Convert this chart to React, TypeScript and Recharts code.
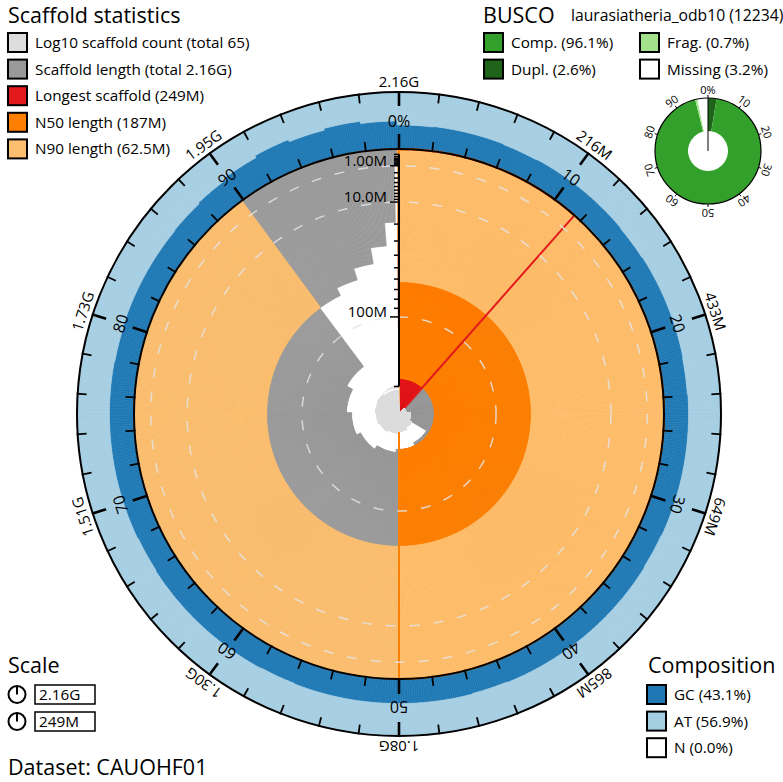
import React from 'react';
import {
  RadialBarChart,
  RadialBar,
  PolarAngleAxis,
  PolarRadiusAxis,
  PolarGrid,
  PieChart,
  Pie,
  Cell,
} from 'recharts';

// ---------------------------------------------------------------------------
// Frame
// ---------------------------------------------------------------------------
const WIDTH = 783;
const HEIGHT = 782;
const CX = 399;
const CY = 414;
const PLOT_RADIUS = 265; // scaffold statistics disc
const RING_OUTER = 322; // composition ring outer edge
const COUNT_RADIUS = 50; // radius of the log10 count scale at 100 scaffolds
const BIN_COUNT = 1000;
const START_ANGLE = 90;
const FONT = '"Open Sans", "DejaVu Sans", sans-serif';

// ---------------------------------------------------------------------------
// Assembly data
// ---------------------------------------------------------------------------
const DATASET = 'CAUOHF01';

// scaffold lengths in Mb, longest first
const scaffoldLengthsMb = [
  249, 246, 235, 192, 187, 182, 175, 168, 160, 150, 62.5, 55, 45, 33, 19,
  0.6, 0.45, 0.35, 0.3, 0.25, 0.2, 0.18, 0.16, 0.15, 0.14, 0.13, 0.12, 0.11,
  0.1, 0.095, 0.09, 0.085, 0.08, 0.075, 0.07, 0.065, 0.06, 0.058, 0.055, 0.052,
  0.05, 0.048, 0.046, 0.044, 0.042, 0.04, 0.038, 0.036, 0.034, 0.032, 0.03,
  0.029, 0.028, 0.027, 0.026, 0.025, 0.024, 0.023, 0.022, 0.021, 0.02, 0.019,
  0.018, 0.017, 0.016,
];

const N50_LENGTH = 187e6;
const N90_LENGTH = 62.5e6;

// GC fraction in 2% windows round the assembly
const gcWindows = [
  0.42, 0.43, 0.43, 0.42, 0.43, 0.43, 0.43, 0.42, 0.43, 0.43,
  0.43, 0.42, 0.43, 0.43, 0.43, 0.43, 0.42, 0.43, 0.43, 0.43,
  0.43, 0.43, 0.42, 0.43, 0.43, 0.43, 0.43, 0.43, 0.42, 0.43,
  0.43, 0.43, 0.43, 0.42, 0.43, 0.43, 0.43, 0.43, 0.43, 0.42,
  0.43, 0.43, 0.43, 0.44, 0.46, 0.5, 0.54, 0.5, 0.53, 0.49,
];

const compositionLegend = [
  { label: 'GC', value: 43.1, color: '#1f78b4' },
  { label: 'AT', value: 56.9, color: '#a6cee3' },
  { label: 'N', value: 0.0, color: '#ffffff' },
];

// BUSCO
const BUSCO_LINEAGE = 'laurasiatheria_odb10';
const BUSCO_TOTAL = 12234;
const BUSCO_COMPLETE = 96.1;
const BUSCO_DUPLICATED = 2.6;
const BUSCO_FRAGMENTED = 0.7;
const BUSCO_MISSING = 3.2;

// ---------------------------------------------------------------------------
// Colours
// ---------------------------------------------------------------------------
const C_COUNT = '#dddddd';
const C_LENGTH = '#999999';
const C_LONGEST = '#e31a1c';
const C_N50 = '#ff7f00';
const C_N90 = '#fdbf6f';
const C_GC = '#1f78b4';
const C_AT = '#a6cee3';
const C_COMP = '#33a02c';
const C_DUPL = '#20641c';
const C_FRAG = '#a3e28b';
const C_MISSING = '#ffffff';

// ---------------------------------------------------------------------------
// Derived tables
// ---------------------------------------------------------------------------
const scaffoldBp = scaffoldLengthsMb.map((mb) => mb * 1e6);
const SPAN = scaffoldBp.reduce((a, b) => a + b, 0);
const LONGEST = scaffoldBp[0];
const SCAFFOLD_COUNT = scaffoldBp.length;

const starts: number[] = [];
const ends: number[] = [];
scaffoldBp.reduce((acc, len) => {
  starts.push(acc);
  ends.push(acc + len);
  return acc + len;
}, 0);

const bins = Array.from({ length: BIN_COUNT }, (_, i) => {
  const lo = (i / BIN_COUNT) * SPAN;
  const hi = ((i + 1) / BIN_COUNT) * SPAN;
  const mid = (lo + hi) / 2;
  let idx = ends.findIndex((e) => e > mid);
  if (idx < 0) idx = scaffoldBp.length - 1;
  const count = starts.filter((s) => s < hi).length;
  const frac = (i + 0.5) / BIN_COUNT;
  const gc = gcWindows[Math.floor((i * gcWindows.length) / BIN_COUNT)];
  return {
    bin: i,
    length: [scaffoldBp[idx], 0],
    longest: mid < ends[0] ? [LONGEST, 0] : [0, 0],
    n50: frac < 0.5 ? [N50_LENGTH, 0] : [0, 0],
    n90: frac < 0.9 ? [N90_LENGTH, 0] : [0, 0],
    count: [1, count],
    countLine: count >= 10.5 ? [9.7, 10.3] : [1, 1],
    gc,
    at: 1 - gc,
  };
});

// angular frame for the percentage axes (one category per 10%)
const tenPercentSteps = Array.from({ length: 10 }, (_, i) => ({ pct: i * 10 }));
const MINOR_STEPS = [2, 4, 6, 8];

const buscoSlices = [
  { name: 'Dupl.', value: BUSCO_DUPLICATED, color: C_DUPL },
  { name: 'Single', value: BUSCO_COMPLETE - BUSCO_DUPLICATED, color: C_COMP },
  { name: 'Frag.', value: BUSCO_FRAGMENTED, color: C_FRAG },
  { name: 'Missing', value: BUSCO_MISSING, color: C_MISSING },
];

const longestSlices = [
  { name: 'longest', value: LONGEST },
  { name: 'rest', value: SPAN - LONGEST },
];
const n50Slices = [
  { name: 'n50', value: SPAN * 0.5 },
  { name: 'rest', value: SPAN * 0.5 },
];

const majorLengthTicks = [1e6, 1e7, 1e8];
const lengthTicks = [
  ...[1, 2, 3, 4, 5, 6, 7, 8, 9].map((v) => v * 1e5),
  ...[1, 2, 3, 4, 5, 6, 7, 8, 9].map((v) => v * 1e6),
  ...[1, 2, 3, 4, 5, 6, 7, 8, 9].map((v) => v * 1e7),
  1e8,
  2e8,
];

// ---------------------------------------------------------------------------
// Helpers
// ---------------------------------------------------------------------------
const RAD = Math.PI / 180;
const polarXY = (cx: number, cy: number, r: number, angle: number) => ({
  x: cx + r * Math.cos(-angle * RAD),
  y: cy + r * Math.sin(-angle * RAD),
});
// angle (recharts convention) of a percentage position, clockwise from 12 o'clock
const pctAngle = (pct: number) => START_ANGLE - pct * 3.6;

const fmtBp = (v: number) => {
  if (v >= 1e9) return `${(v / 1e9).toPrecision(3)}G`;
  if (v >= 1e6) return `${(v / 1e6).toPrecision(3)}M`;
  if (v >= 1e3) return `${(v / 1e3).toPrecision(3)}k`;
  return String(v);
};

const frame = {
  width: WIDTH,
  height: HEIGHT,
  startAngle: START_ANGLE,
  endAngle: START_ANGLE - 360,
  margin: { top: 0, right: 0, bottom: 0, left: 0 },
};

const Layer = ({ children }: { children: React.ReactNode }) => (
  <div style={{ position: 'absolute', left: 0, top: 0, width: WIDTH, height: HEIGHT }}>
    {children}
  </div>
);

// ---------------------------------------------------------------------------
// Tick renderers (one call per 10%, drawing that decade's 2% marks as well)
// ---------------------------------------------------------------------------
type TickRenderer = (p: any) => React.ReactElement;

function RingMarks({
  pct,
  radius,
  dir,
  majorLen,
  minorLen,
}: {
  pct: number;
  radius: number;
  dir: 1 | -1;
  majorLen: number;
  minorLen: number;
}) {
  const marks = [0, ...MINOR_STEPS].map((k) => {
    const a = pctAngle(pct + k);
    const major = k === 0;
    const p1 = polarXY(CX, CY, radius - dir * 1, a);
    const p2 = polarXY(CX, CY, radius + dir * (major ? majorLen : minorLen), a);
    return (
      <line
        key={k}
        x1={p1.x}
        y1={p1.y}
        x2={p2.x}
        y2={p2.y}
        stroke="#000"
        strokeWidth={major ? 2.6 : 1.8}
      />
    );
  });
  return <g>{marks}</g>;
}

function InnerTick(props: any) {
  const pct = Number(props.payload.value);
  const a = pctAngle(pct);
  const lp = polarXY(CX, CY, PLOT_RADIUS + 28, a);
  return (
    <g>
      <RingMarks pct={pct} radius={PLOT_RADIUS} dir={1} majorLen={15} minorLen={9} />
      <text
        x={lp.x}
        y={lp.y}
        transform={`rotate(${90 - a} ${lp.x} ${lp.y})`}
        textAnchor="middle"
        dominantBaseline="central"
        fontFamily={FONT}
        fontSize={16}
        fill="#000"
      >
        {pct === 0 ? '0%' : pct}
      </text>
    </g>
  );
}

function OuterTick(props: any) {
  const pct = Number(props.payload.value);
  const a = pctAngle(pct);
  const lp = polarXY(CX, CY, RING_OUTER + 5, a);
  return (
    <g>
      <RingMarks pct={pct} radius={RING_OUTER} dir={-1} majorLen={14} minorLen={9} />
      <text
        x={lp.x}
        y={lp.y}
        transform={`rotate(${90 - a} ${lp.x} ${lp.y})`}
        textAnchor="middle"
        fontFamily={FONT}
        fontSize={15}
        fill="#000"
      >
        {fmtBp(((pct === 0 ? 100 : pct) / 100) * SPAN)}
      </text>
    </g>
  );
}

function LengthTick(props: any) {
  const { x, y, payload } = props;
  const v = payload.value as number;
  const major = majorLengthTicks.includes(v);
  return (
    <g>
      <line x1={x - (major ? 9 : 5)} y1={y} x2={x} y2={y} stroke="#000" strokeWidth={1.5} />
      {major && (
        <text x={x - 12} y={y} textAnchor="end" fontFamily={FONT} fontSize={15} fill="#000">
          {fmtBp(v)}
        </text>
      )}
    </g>
  );
}

const BUSCO_CX = 708;
const BUSCO_CY = 151;
const BUSCO_INNER = 20;
const BUSCO_OUTER = 53;

function BuscoTick(props: any) {
  const v = Number(props.payload.value);
  const a = pctAngle(v);
  const p1 = polarXY(BUSCO_CX, BUSCO_CY, BUSCO_OUTER, a);
  const p2 = polarXY(BUSCO_CX, BUSCO_CY, BUSCO_OUTER + 3, a);
  const lp = polarXY(BUSCO_CX, BUSCO_CY, BUSCO_OUTER + 9, a);
  return (
    <g>
      <line x1={p1.x} y1={p1.y} x2={p2.x} y2={p2.y} stroke="#000" strokeWidth={1} />
      <text
        x={lp.x}
        y={lp.y}
        transform={`rotate(${90 - a} ${lp.x} ${lp.y})`}
        textAnchor="middle"
        dominantBaseline="central"
        fontFamily={FONT}
        fontSize={11}
        fill="#000"
      >
        {v === 0 ? '0%' : v}
      </text>
    </g>
  );
}

// ---------------------------------------------------------------------------
// Chart layers
// ---------------------------------------------------------------------------
function LengthLayer({ dataKey, fill }: { dataKey: string; fill: string }) {
  return (
    <Layer>
      <RadialBarChart
        {...frame}
        cx={CX}
        cy={CY}
        data={bins}
        innerRadius={0}
        outerRadius={PLOT_RADIUS}
        layout="centric"
        barCategoryGap={0}
        barGap={0}
      >
        <PolarAngleAxis type="category" dataKey="bin" tick={false} tickLine={false} axisLine={false} />
        <PolarRadiusAxis
          type="number"
          scale="sqrt"
          domain={[0, LONGEST]}
          reversed
          allowDataOverflow
          tick={false}
          axisLine={false}
        />
        <RadialBar dataKey={dataKey} fill={fill} stroke={fill} strokeWidth={0.6} isAnimationActive={false} />
      </RadialBarChart>
    </Layer>
  );
}

function CountLayer({ dataKey, fill }: { dataKey: string; fill: string }) {
  return (
    <Layer>
      <RadialBarChart
        {...frame}
        cx={CX}
        cy={CY}
        data={bins}
        innerRadius={0}
        outerRadius={COUNT_RADIUS}
        layout="centric"
        barCategoryGap={0}
        barGap={0}
      >
        <PolarAngleAxis type="category" dataKey="bin" tick={false} tickLine={false} axisLine={false} />
        <PolarRadiusAxis type="number" scale="log" domain={[1, 100]} allowDataOverflow tick={false} axisLine={false} />
        <RadialBar dataKey={dataKey} fill={fill} stroke={fill} strokeWidth={0.5} isAnimationActive={false} />
      </RadialBarChart>
    </Layer>
  );
}

function CompositionLayer() {
  return (
    <Layer>
      <RadialBarChart
        {...frame}
        cx={CX}
        cy={CY}
        data={bins}
        innerRadius={PLOT_RADIUS}
        outerRadius={RING_OUTER}
        layout="centric"
        barCategoryGap={0}
        barGap={0}
      >
        <PolarAngleAxis type="category" dataKey="bin" tick={false} tickLine={false} axisLine={false} />
        <PolarRadiusAxis type="number" domain={[0, 1]} allowDataOverflow tick={false} axisLine={false} />
        <RadialBar dataKey="gc" stackId="comp" fill={C_GC} stroke={C_GC} strokeWidth={0.6} isAnimationActive={false} />
        <RadialBar dataKey="at" stackId="comp" fill={C_AT} stroke={C_AT} strokeWidth={0.6} isAnimationActive={false} />
      </RadialBarChart>
    </Layer>
  );
}

function GridLayer() {
  return (
    <Layer>
      <RadialBarChart
        {...frame}
        cx={CX}
        cy={CY}
        data={bins}
        innerRadius={0}
        outerRadius={PLOT_RADIUS}
        layout="centric"
      >
        <PolarAngleAxis type="category" dataKey="bin" tick={false} tickLine={false} axisLine={false} />
        <PolarRadiusAxis
          type="number"
          scale="sqrt"
          domain={[0, LONGEST]}
          reversed
          allowDataOverflow
          ticks={majorLengthTicks}
          tick={false}
          axisLine={false}
        />
        <PolarGrid
          gridType="circle"
          radialLines={false}
          stroke="#e4e4e4"
          strokeOpacity={0.85}
          strokeWidth={1.5}
          strokeDasharray="10 14"
        />
      </RadialBarChart>
    </Layer>
  );
}

function SectorEdgeLayer() {
  return (
    <Layer>
      <PieChart width={WIDTH} height={HEIGHT} margin={{ top: 0, right: 0, bottom: 0, left: 0 }}>
        <Pie
          data={longestSlices}
          dataKey="value"
          cx={CX}
          cy={CY}
          innerRadius={0}
          outerRadius={PLOT_RADIUS}
          startAngle={frame.startAngle}
          endAngle={frame.endAngle}
          isAnimationActive={false}
        >
          {longestSlices.map((s, i) => (
            <Cell key={s.name} fill="none" stroke={i === 0 ? C_LONGEST : 'none'} strokeWidth={2} />
          ))}
        </Pie>
        <Pie
          data={n50Slices}
          dataKey="value"
          cx={CX}
          cy={CY}
          innerRadius={0}
          outerRadius={PLOT_RADIUS}
          startAngle={frame.startAngle}
          endAngle={frame.endAngle}
          isAnimationActive={false}
        >
          {n50Slices.map((s, i) => (
            <Cell key={s.name} fill="none" stroke={i === 0 ? C_N50 : 'none'} strokeWidth={2} />
          ))}
        </Pie>
      </PieChart>
    </Layer>
  );
}

function PercentAxisLayer({
  cx,
  cy,
  radius,
  tick,
  strokeWidth,
  radial,
}: {
  cx: number;
  cy: number;
  radius: number;
  tick: TickRenderer;
  strokeWidth: number;
  radial?: boolean;
}) {
  return (
    <Layer>
      <RadialBarChart
        {...frame}
        cx={cx}
        cy={cy}
        data={tenPercentSteps}
        innerRadius={0}
        outerRadius={radius}
        layout="centric"
      >
        <PolarAngleAxis
          type="category"
          dataKey="pct"
          axisLineType="circle"
          axisLine={{ stroke: '#000', strokeWidth }}
          tickLine={false}
          tick={tick}
        />
        <PolarRadiusAxis
          type="number"
          domain={[0, 1]}
          allowDataOverflow
          angle={START_ANGLE}
          tick={false}
          axisLine={radial ? { stroke: '#000', strokeWidth: 1 } : false}
        />
      </RadialBarChart>
    </Layer>
  );
}

function LengthAxisLayer() {
  return (
    <Layer>
      <RadialBarChart
        {...frame}
        cx={CX}
        cy={CY}
        data={bins}
        innerRadius={0}
        outerRadius={PLOT_RADIUS}
        layout="centric"
      >
        <PolarAngleAxis type="category" dataKey="bin" tick={false} tickLine={false} axisLine={false} />
        <PolarRadiusAxis
          type="number"
          scale="sqrt"
          domain={[0, LONGEST]}
          reversed
          allowDataOverflow
          angle={START_ANGLE}
          ticks={lengthTicks}
          tick={LengthTick}
          axisLine={{ stroke: '#000', strokeWidth: 2 }}
        />
      </RadialBarChart>
    </Layer>
  );
}

function BuscoDonut() {
  return (
    <Layer>
      <PieChart width={WIDTH} height={HEIGHT} margin={{ top: 0, right: 0, bottom: 0, left: 0 }}>
        <Pie
          data={buscoSlices}
          dataKey="value"
          cx={BUSCO_CX}
          cy={BUSCO_CY}
          innerRadius={BUSCO_INNER}
          outerRadius={BUSCO_OUTER}
          startAngle={frame.startAngle}
          endAngle={frame.endAngle}
          stroke="none"
          isAnimationActive={false}
        >
          {buscoSlices.map((s) => (
            <Cell key={s.name} fill={s.color} />
          ))}
        </Pie>
      </PieChart>
    </Layer>
  );
}

// ---------------------------------------------------------------------------
// Legends
// ---------------------------------------------------------------------------
const Swatch = ({ x, y, color }: { x: number; y: number; color: string }) => (
  <rect x={x} y={y} width={19} height={19} fill={color} stroke="#000" strokeWidth={2} />
);

function Legends() {
  const scaffoldItems = [
    { color: C_COUNT, text: `Log10 scaffold count (total ${SCAFFOLD_COUNT})` },
    { color: C_LENGTH, text: `Scaffold length (total ${fmtBp(SPAN)})` },
    { color: C_LONGEST, text: `Longest scaffold (${fmtBp(LONGEST)})` },
    { color: C_N50, text: `N50 length (${fmtBp(N50_LENGTH)})` },
    { color: C_N90, text: `N90 length (${fmtBp(N90_LENGTH)})` },
  ];
  const buscoItems = [
    { color: C_COMP, text: `Comp. (${BUSCO_COMPLETE.toFixed(1)}%)`, x: 484, row: 0 },
    { color: C_DUPL, text: `Dupl. (${BUSCO_DUPLICATED.toFixed(1)}%)`, x: 484, row: 1 },
    { color: C_FRAG, text: `Frag. (${BUSCO_FRAGMENTED.toFixed(1)}%)`, x: 640, row: 0 },
    { color: C_MISSING, text: `Missing (${BUSCO_MISSING.toFixed(1)}%)`, x: 640, row: 1 },
  ];
  const ROW0 = 33;
  const STEP = 26.6;
  return (
    <Layer>
      <svg width={WIDTH} height={HEIGHT} style={{ position: 'absolute', left: 0, top: 0 }} fontFamily={FONT}>
        <text x={8} y={23} fontSize={21.5}>Scaffold statistics</text>
        {scaffoldItems.map((it, i) => (
          <g key={it.text}>
            <Swatch x={8} y={ROW0 + i * STEP} color={it.color} />
            <text x={35} y={ROW0 + i * STEP + 15} fontSize={15.3}>{it.text}</text>
          </g>
        ))}

        <text x={483} y={23} fontSize={21.5}>BUSCO</text>
        <text x={571} y={21} fontSize={15.7}>{`${BUSCO_LINEAGE} (${BUSCO_TOTAL})`}</text>
        {buscoItems.map((it) => (
          <g key={it.text}>
            <Swatch x={it.x} y={ROW0 + it.row * STEP} color={it.color} />
            <text x={it.x + 27} y={ROW0 + it.row * STEP + 15} fontSize={15.3}>{it.text}</text>
          </g>
        ))}

        <text x={8} y={673} fontSize={21.5}>Scale</text>
        {[fmtBp(SPAN), fmtBp(LONGEST)].map((label, i) => {
          const cy = 694.5 + i * 27;
          return (
            <g key={label}>
              <circle cx={17} cy={cy} r={8.5} fill="none" stroke="#000" strokeWidth={2} />
              <line x1={17} y1={cy} x2={17} y2={cy - 8.5} stroke="#000" strokeWidth={2} />
              <rect x={35} y={cy - 9.5} width={60} height={19} fill="#fff" stroke="#000" strokeWidth={1.5} />
              <text x={39} y={cy + 5.5} fontSize={15.3}>{label}</text>
            </g>
          );
        })}

        <text x={8} y={775} fontSize={21.5}>{`Dataset: ${DATASET}`}</text>

        <text x={648} y={673} fontSize={21.5}>Composition</text>
        {compositionLegend.map((it, i) => (
          <g key={it.label}>
            <Swatch x={647} y={685 + i * STEP} color={it.color} />
            <text x={674} y={685 + i * STEP + 15} fontSize={15.3}>{`${it.label} (${it.value.toFixed(1)}%)`}</text>
          </g>
        ))}
      </svg>
    </Layer>
  );
}

// ---------------------------------------------------------------------------
// App
// ---------------------------------------------------------------------------
export default function App() {
  return (
    <div
      style={{
        position: 'absolute',
        left: 0,
        top: 0,
        width: WIDTH,
        height: HEIGHT,
        background: '#fff',
        overflow: 'hidden',
        fontFamily: FONT,
      }}
    >
      <CompositionLayer />
      <LengthLayer dataKey="length" fill={C_LENGTH} />
      <LengthLayer dataKey="longest" fill={C_LONGEST} />
      <LengthLayer dataKey="n50" fill={C_N50} />
      <LengthLayer dataKey="n90" fill={C_N90} />
      <SectorEdgeLayer />
      <CountLayer dataKey="count" fill={C_COUNT} />
      <CountLayer dataKey="countLine" fill="#ffffff" />
      <GridLayer />
      <PercentAxisLayer cx={CX} cy={CY} radius={PLOT_RADIUS} tick={InnerTick} strokeWidth={2} />
      <PercentAxisLayer cx={CX} cy={CY} radius={RING_OUTER} tick={OuterTick} strokeWidth={2} />
      <LengthAxisLayer />
      <BuscoDonut />
      <PercentAxisLayer cx={BUSCO_CX} cy={BUSCO_CY} radius={BUSCO_OUTER} tick={BuscoTick} strokeWidth={1.2} radial />
      <Legends />
    </div>
  );
}
